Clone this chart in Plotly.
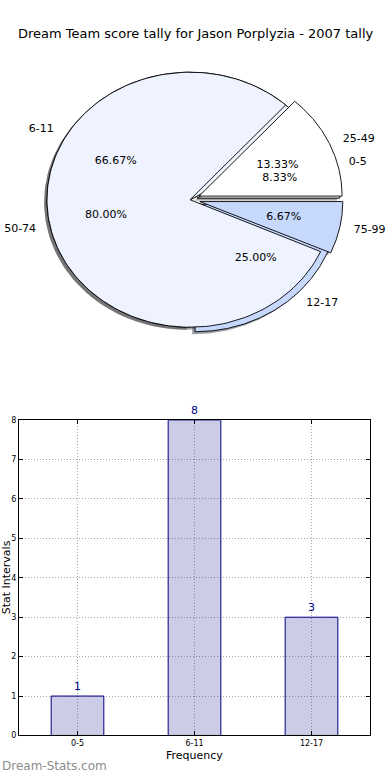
import numpy as np
import plotly.graph_objects as go

# ---- data ----
title_text = "Dream Team score tally for Jason Porplyzia - 2007 tally"
pie1_labels = ["0-5", "6-11", "12-17"]
pie1_values = [1, 8, 3]
pie2_labels = ["25-49", "50-74", "75-99"]
pie2_values = [2, 12, 1]
bar_categories = ["0-5", "6-11", "12-17"]
bar_values = [1, 8, 3]
y_ticks = [0, 1, 2, 3, 4, 5, 6, 7, 8]

# ---- styles ----
wedge_colors = ["#ffffff", "#eef3ff", "#c6d9fd"]
pie1_explode = [0.05, 0.0, 0.05]
pie2_explode = [0.07, 0.0, 0.07]
FONT = "DejaVu Sans"
W, H = 390, 780

fig = go.Figure()


def wedges(values, explode):
    total = float(sum(values))
    out = []
    t1 = 0.0
    for v, e in zip(values, explode):
        t2 = t1 + 360.0 * v / total
        tm = np.deg2rad((t1 + t2) / 2)
        cx, cy = e * np.cos(tm), e * np.sin(tm)
        out.append((t1, t2, tm, cx, cy, v / total))
        t1 = t2
    return out


def wedge_path(t1, t2, cx, cy, dx=0.0, dy=0.0):
    th = np.deg2rad(np.linspace(t1, t2, 160))
    xs = np.concatenate([[cx], cx + np.cos(th), [cx]]) + dx
    ys = np.concatenate([[cy], cy + np.sin(th), [cy]]) + dy
    return xs, ys


def shade(hexc):
    h = hexc.lstrip("#")
    r, g, b = (int(h[i:i + 2], 16) for i in (0, 2, 4))
    return "rgba(%d,%d,%d,0.5)" % (r * 0.3, g * 0.3, b * 0.3)


pies = [(pie1_labels, wedges(pie1_values, pie1_explode)),
        (pie2_labels, wedges(pie2_values, pie2_explode))]

# shadows first
for labels, ws in pies:
    for i, (t1, t2, tm, cx, cy, f) in enumerate(ws):
        xs, ys = wedge_path(t1, t2, cx, cy, -0.02, -0.02)
        fig.add_trace(go.Scatter(x=xs, y=ys, fill="toself", mode="lines",
                                 fillcolor=shade(wedge_colors[i]),
                                 line=dict(width=0), hoverinfo="skip",
                                 showlegend=False, xaxis="x", yaxis="y"))
# wedges
for labels, ws in pies:
    for i, (t1, t2, tm, cx, cy, f) in enumerate(ws):
        xs, ys = wedge_path(t1, t2, cx, cy)
        fig.add_trace(go.Scatter(x=xs, y=ys, fill="toself", mode="lines",
                                 fillcolor=wedge_colors[i],
                                 line=dict(width=0.9, color="black"),
                                 hoverinfo="skip", name=labels[i],
                                 showlegend=False, xaxis="x", yaxis="y"))
# labels
for labels, ws in pies:
    for i, (t1, t2, tm, cx, cy, f) in enumerate(ws):
        lx, ly = cx + 1.1 * np.cos(tm), cy + 1.1 * np.sin(tm)
        fig.add_trace(go.Scatter(
            x=[lx], y=[ly], mode="text", text=[labels[i]],
            textposition="middle right" if lx > 0 else "middle left",
            textfont=dict(family=FONT, size=11, color="black"),
            hoverinfo="skip", showlegend=False, xaxis="x", yaxis="y"))
        px, py = cx + 0.6 * np.cos(tm), cy + 0.6 * np.sin(tm)
        fig.add_trace(go.Scatter(
            x=[px], y=[py], mode="text", text=["%.2f%%" % (f * 100)],
            textposition="middle center",
            textfont=dict(family=FONT, size=11, color="black"),
            hoverinfo="skip", showlegend=False, xaxis="x", yaxis="y"))

# bar chart
fig.add_trace(go.Bar(
    x=list(range(len(bar_categories))), y=bar_values, width=0.45,
    marker=dict(color="rgba(0,0,128,0.2)", line=dict(color="#000080", width=1)),
    text=[str(v) for v in bar_values], textposition="outside",
    textfont=dict(family=FONT, size=11, color="#000080"),
    cliponaxis=False, showlegend=False, xaxis="x2", yaxis="y2"))

# pixel geometry
cx_px, cy_px, rx_px, ry_px = 190, 198, 143, 129
pie_top, pie_bot = 0, 400
ax_l, ax_r, ax_t, ax_b = 19, 370, 421, 740

grid_style = dict(showgrid=True, gridcolor="#a8a8a8", griddash="1px,2px", gridwidth=1)

fig.update_layout(
    width=W, height=H, margin=dict(l=0, r=0, t=0, b=0),
    paper_bgcolor="white", plot_bgcolor="rgba(0,0,0,0)",
    font=dict(family=FONT, color="black"),
    xaxis=dict(domain=[0, 1], range=[-cx_px / rx_px, (W - cx_px) / rx_px],
               visible=False, fixedrange=True),
    yaxis=dict(domain=[1 - pie_bot / H, 1 - pie_top / H],
               range=[-(pie_bot - cy_px) / ry_px, (cy_px - pie_top) / ry_px],
               visible=False, fixedrange=True),
    xaxis2=dict(domain=[ax_l / W, ax_r / W], range=[-0.5, 2.5],
                tickmode="array", tickvals=list(range(len(bar_categories))),
                ticktext=bar_categories, tickfont=dict(size=8),
                showline=True, linecolor="black", linewidth=1, mirror="allticks",
                ticks="inside", ticklen=4, tickcolor="black",
                zeroline=False, anchor="y2", **grid_style),
    yaxis2=dict(domain=[1 - ax_b / H, 1 - ax_t / H], range=[0, 8],
                tickmode="array", tickvals=y_ticks, tickfont=dict(size=8),
                showline=True, linecolor="black", linewidth=1, mirror="allticks",
                ticks="inside", ticklen=4, tickcolor="black",
                zeroline=False, anchor="x2", **grid_style),
    annotations=[
        dict(text=title_text, x=195 / W, y=1 - 30 / H, xref="paper", yref="paper",
             showarrow=False, font=dict(size=13, family=FONT), xanchor="center",
             yanchor="middle"),
        dict(text="Frequency", x=194 / W, y=1 - 760 / H, xref="paper", yref="paper",
             showarrow=False, font=dict(size=11, family=FONT), xanchor="center",
             yanchor="middle"),
        dict(text="Stat Intervals", x=6 / W, y=1 - 580 / H, xref="paper", yref="paper",
             showarrow=False, font=dict(size=11, family=FONT), textangle=-90,
             xanchor="center", yanchor="middle"),
        dict(text="Dream-Stats.com", x=0, y=1 - 771 / H, xref="paper",
             yref="paper", showarrow=False,
             font=dict(size=12, family=FONT, color="#8c8c8c"),
             xanchor="left", yanchor="middle"),
    ],
)

fig.write_html("out.html", config={"displayModeBar": False},
               post_script="document.body.style.margin='0';document.body.style.overflow='hidden';")
